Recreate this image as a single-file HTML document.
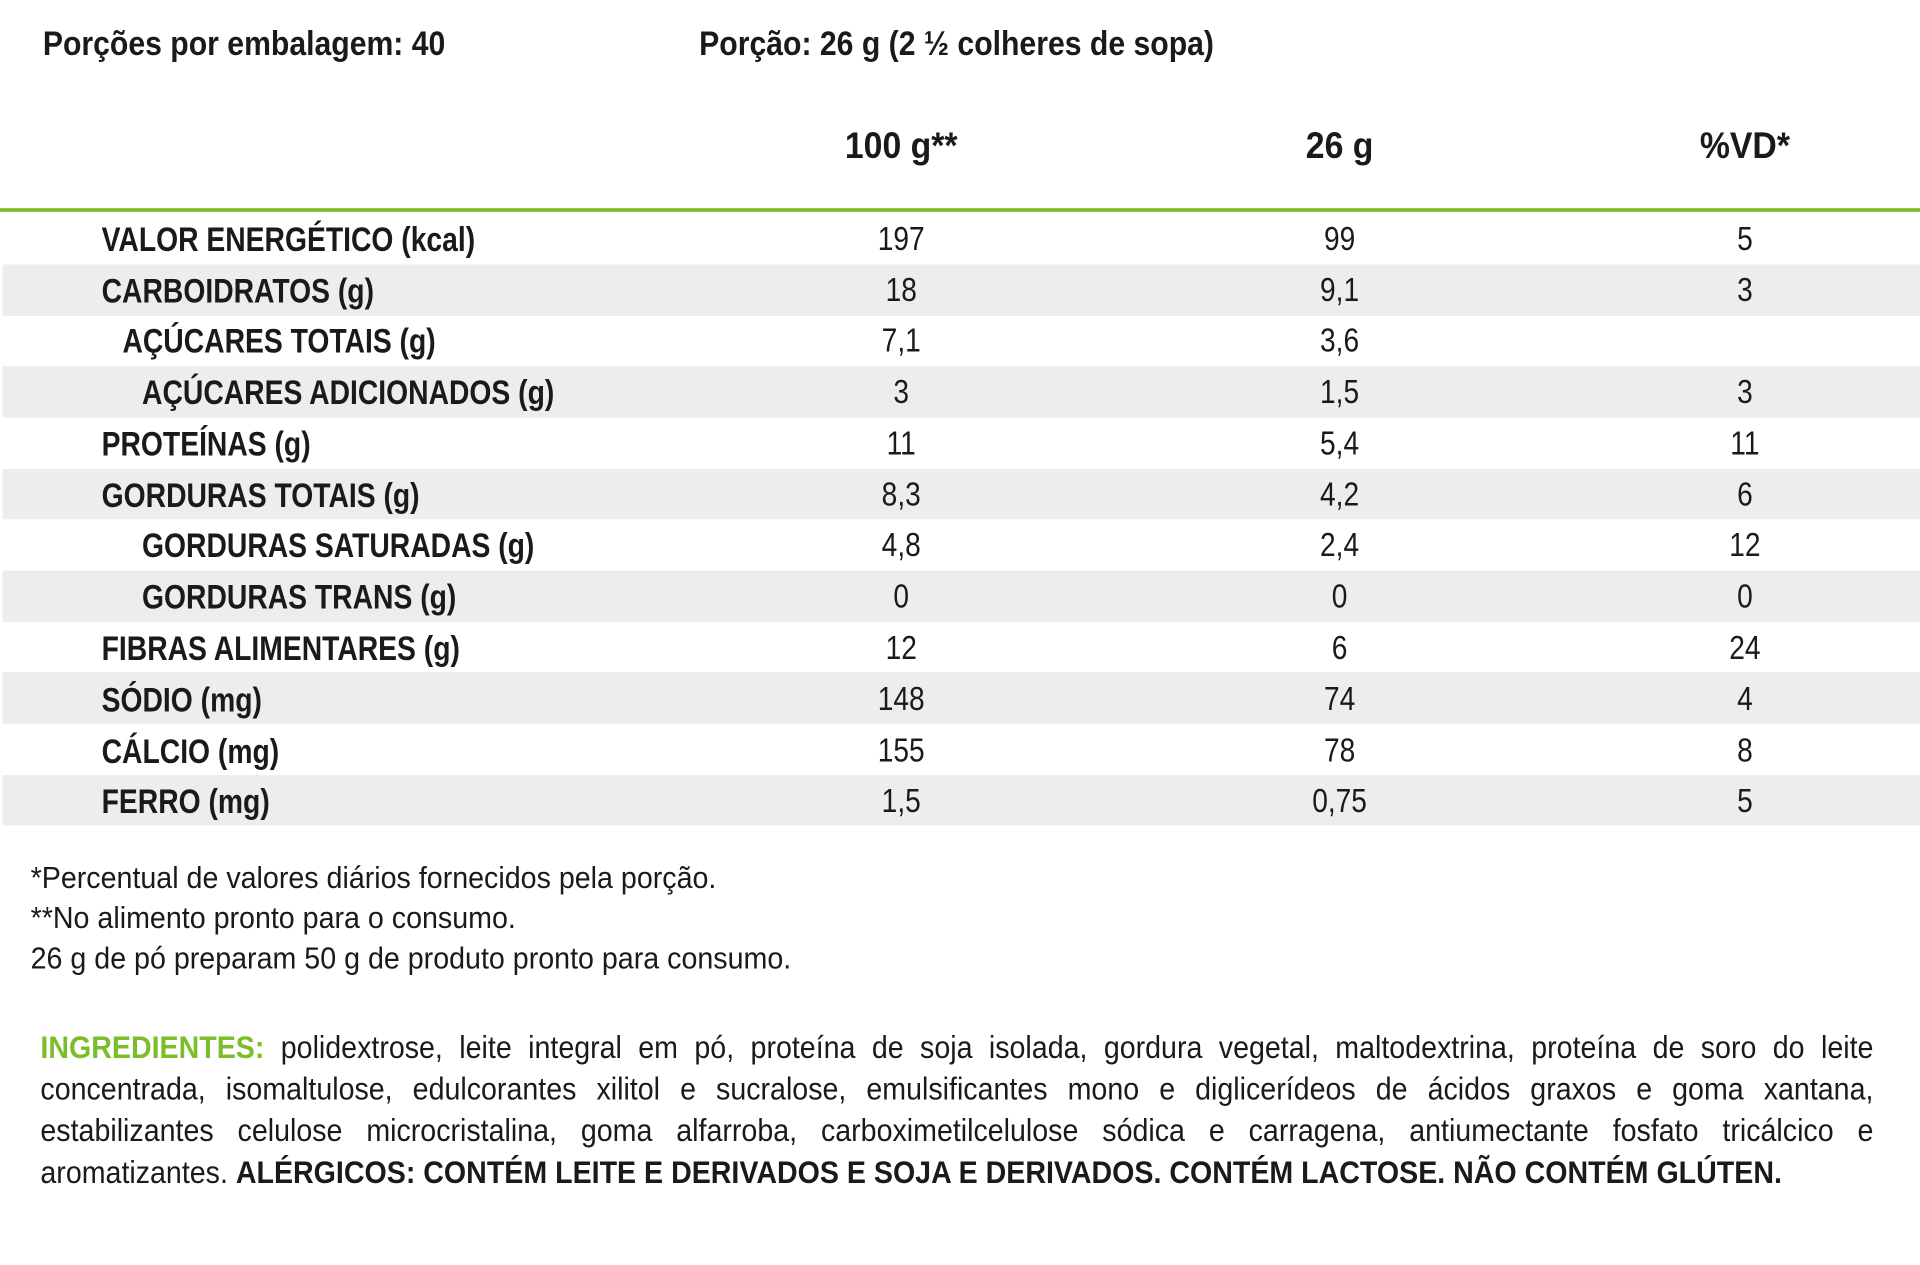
<!DOCTYPE html>
<html><head><meta charset="utf-8"><style>
html,body{margin:0;padding:0;background:#fff;}
body{width:1920px;height:1264px;overflow:hidden;position:relative;}
#w{position:absolute;left:0;top:0;width:1568px;height:1033px;transform:scale(1.22449);transform-origin:0 0;font-family:"Liberation Sans",sans-serif;color:#1a1a1a;}
.t{position:absolute;white-space:nowrap;line-height:1;}
.b{font-weight:bold;font-size:28px;transform:scaleX(0.825);transform-origin:0 50%;}
.h{font-weight:bold;font-size:28px;transform:scaleX(0.88);transform-origin:0 50%;}
.c{font-size:27px;transform:translateX(-50%) scaleX(0.85);transform-origin:50% 50%;}
.cb{font-weight:bold;font-size:30px;transform:translateX(-50%) scaleX(0.92);transform-origin:50% 50%;}
.row{position:absolute;left:2px;width:1566px;height:41.67px;}
.g{background:#ededed;}
.fn{font-size:25px;transform:scaleX(0.935);transform-origin:0 50%;}
#ing{position:absolute;left:33px;top:838px;width:1667px;transform:scaleX(0.898);transform-origin:0 0;font-size:26px;line-height:34px;}
#ing div{text-align:justify;text-align-last:justify;white-space:nowrap;}
#ing div.l{text-align-last:left;}
</style></head><body><div id="w">
<div class="t h" style="left:35px;top:22px">Porções por embalagem: 40</div>
<div class="t h" style="left:571px;top:22px">Porção: 26 g (2 ½ colheres de sopa)</div>
<div class="t cb" style="left:736px;top:105px">100 g**</div>
<div class="t cb" style="left:1094px;top:105px">26 g</div>
<div class="t cb" style="left:1425px;top:105px">%VD*</div>
<div style="position:absolute;left:0;top:170px;width:1568px;height:3px;background:#7cbd2a"></div>

<div class="row g" style="top:216px"></div>
<div class="row g" style="top:299.3px"></div>
<div class="row g" style="top:382.7px"></div>
<div class="row g" style="top:466px"></div>
<div class="row g" style="top:549.3px"></div>
<div class="row g" style="top:632.7px"></div>

<div class="t b" style="left:83px;top:182px">VALOR ENERGÉTICO (kcal)</div>
<div class="t c" style="left:736px;top:182px">197</div><div class="t c" style="left:1094px;top:182px">99</div><div class="t c" style="left:1425px;top:182px">5</div>

<div class="t b" style="left:83px;top:224px">CARBOIDRATOS (g)</div>
<div class="t c" style="left:736px;top:224px">18</div><div class="t c" style="left:1094px;top:224px">9,1</div><div class="t c" style="left:1425px;top:224px">3</div>

<div class="t b" style="left:100px;top:265px">AÇÚCARES TOTAIS (g)</div>
<div class="t c" style="left:736px;top:265px">7,1</div><div class="t c" style="left:1094px;top:265px">3,6</div>

<div class="t b" style="left:116px;top:307px">AÇÚCARES ADICIONADOS (g)</div>
<div class="t c" style="left:736px;top:307px">3</div><div class="t c" style="left:1094px;top:307px">1,5</div><div class="t c" style="left:1425px;top:307px">3</div>

<div class="t b" style="left:83px;top:349px">PROTEÍNAS (g)</div>
<div class="t c" style="left:736px;top:349px">11</div><div class="t c" style="left:1094px;top:349px">5,4</div><div class="t c" style="left:1425px;top:349px">11</div>

<div class="t b" style="left:83px;top:391px">GORDURAS TOTAIS (g)</div>
<div class="t c" style="left:736px;top:391px">8,3</div><div class="t c" style="left:1094px;top:391px">4,2</div><div class="t c" style="left:1425px;top:391px">6</div>

<div class="t b" style="left:116px;top:432px">GORDURAS SATURADAS (g)</div>
<div class="t c" style="left:736px;top:432px">4,8</div><div class="t c" style="left:1094px;top:432px">2,4</div><div class="t c" style="left:1425px;top:432px">12</div>

<div class="t b" style="left:116px;top:474px">GORDURAS TRANS (g)</div>
<div class="t c" style="left:736px;top:474px">0</div><div class="t c" style="left:1094px;top:474px">0</div><div class="t c" style="left:1425px;top:474px">0</div>

<div class="t b" style="left:83px;top:516px">FIBRAS ALIMENTARES (g)</div>
<div class="t c" style="left:736px;top:516px">12</div><div class="t c" style="left:1094px;top:516px">6</div><div class="t c" style="left:1425px;top:516px">24</div>

<div class="t b" style="left:83px;top:558px">SÓDIO (mg)</div>
<div class="t c" style="left:736px;top:558px">148</div><div class="t c" style="left:1094px;top:558px">74</div><div class="t c" style="left:1425px;top:558px">4</div>

<div class="t b" style="left:83px;top:600px">CÁLCIO (mg)</div>
<div class="t c" style="left:736px;top:600px">155</div><div class="t c" style="left:1094px;top:600px">78</div><div class="t c" style="left:1425px;top:600px">8</div>

<div class="t b" style="left:83px;top:641px">FERRO (mg)</div>
<div class="t c" style="left:736px;top:641px">1,5</div><div class="t c" style="left:1094px;top:641px">0,75</div><div class="t c" style="left:1425px;top:641px">5</div>

<div class="t fn" style="left:25px;top:705px">*Percentual de valores diários fornecidos pela porção.</div>
<div class="t fn" style="left:25px;top:738px">**No alimento pronto para o consumo.</div>
<div class="t fn" style="left:25px;top:771px">26 g de pó preparam 50 g de produto pronto para consumo.</div>

<div id="ing">
<div><b style="color:#7cbd2a">INGREDIENTES:</b> polidextrose, leite integral em pó, proteína de soja isolada, gordura vegetal, maltodextrina, proteína de soro do leite</div>
<div>concentrada, isomaltulose, edulcorantes xilitol e sucralose, emulsificantes mono e diglicerídeos de ácidos graxos e goma xantana,</div>
<div>estabilizantes celulose microcristalina, goma alfarroba, carboximetilcelulose sódica e carragena, antiumectante fosfato tricálcico e</div>
<div class="l">aromatizantes. <b>ALÉRGICOS: CONTÉM LEITE E DERIVADOS E SOJA E DERIVADOS. CONTÉM LACTOSE. NÃO CONTÉM GLÚTEN.</b></div>
</div>
</div></body></html>
